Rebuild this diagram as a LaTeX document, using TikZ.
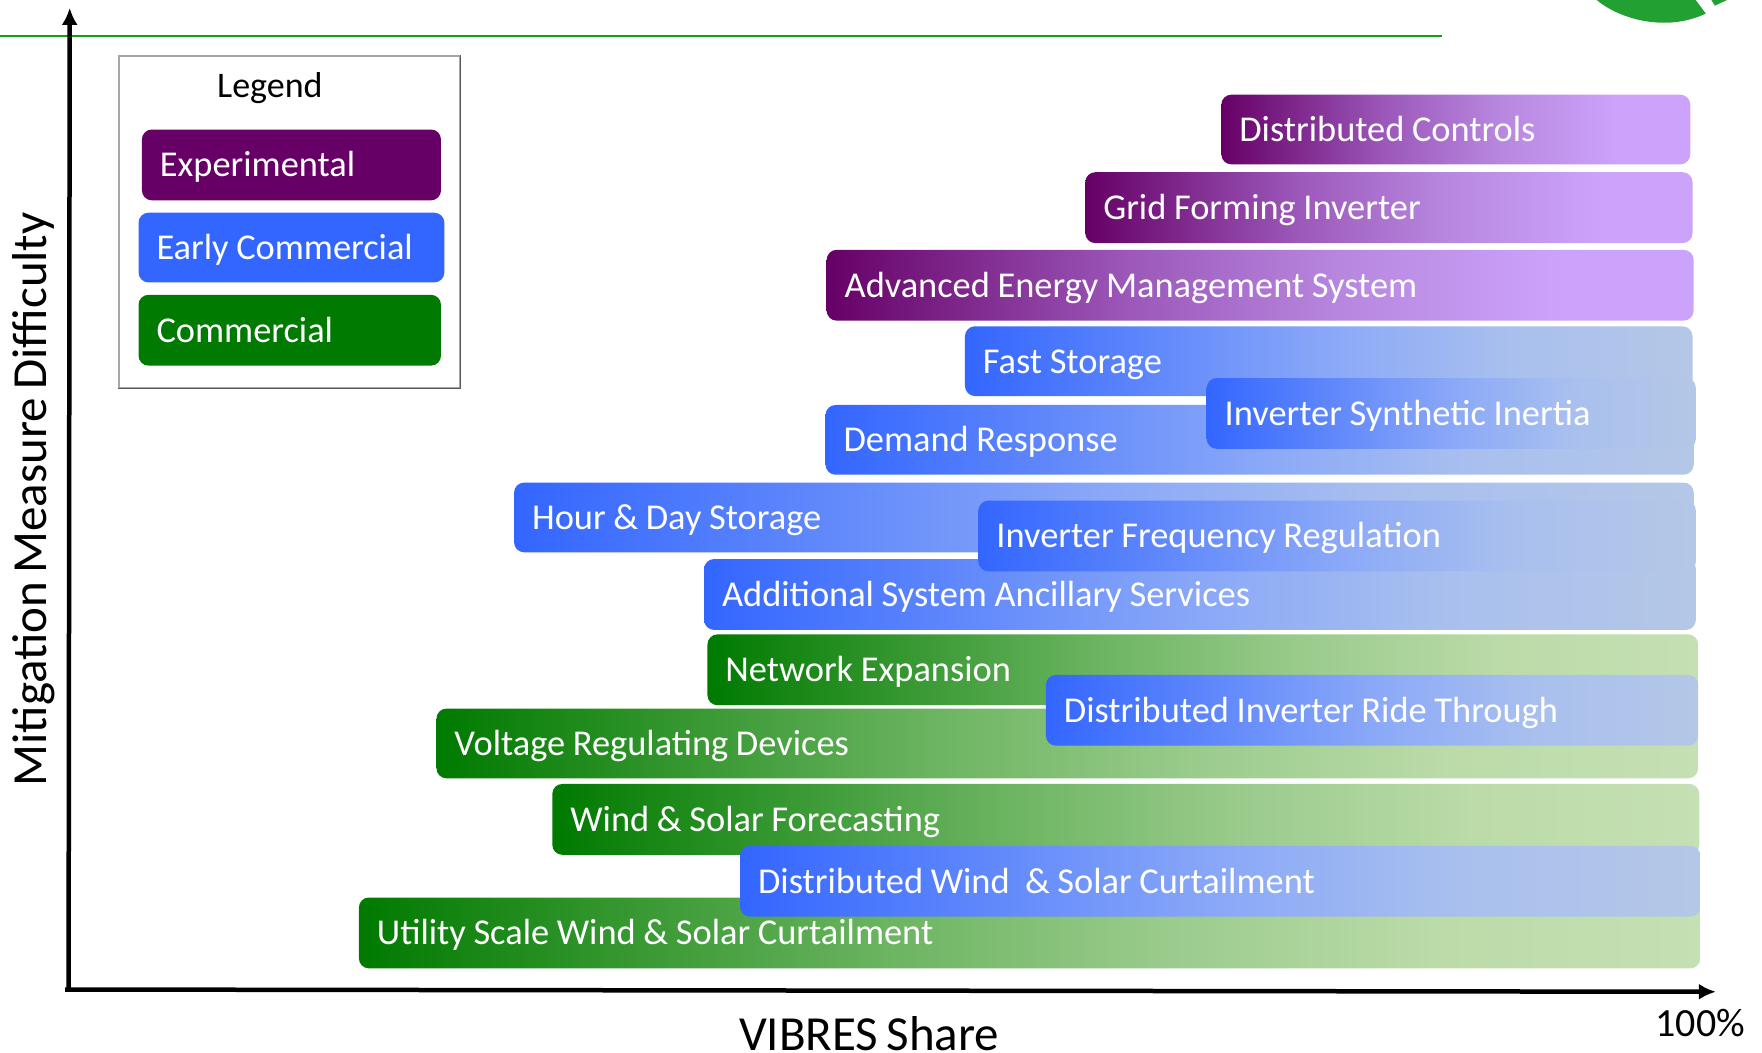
\documentclass[tikz,border=0pt]{standalone}
\usepackage{fontspec}
\setmainfont[WordSpace=0.75]{Carlito}
\usetikzlibrary{arrows.meta}
\definecolor{pdark}{HTML}{660066}
\definecolor{pa}{HTML}{9C58BA}
\definecolor{pb}{HTML}{B888E0}
\definecolor{plight}{HTML}{CCA3FB}
\definecolor{bdark}{HTML}{3366FF}
\definecolor{ba}{HTML}{8AA8F8}
\definecolor{bb}{HTML}{A9C0EE}
\definecolor{blight}{HTML}{B4C7E7}
\definecolor{gdark}{HTML}{007A00}
\definecolor{ga}{HTML}{6DB562}
\definecolor{gb}{HTML}{9ACB8C}
\definecolor{gc}{HTML}{BBDBA8}
\definecolor{glight}{HTML}{C5E0B4}
\definecolor{topline}{HTML}{12A012}
\definecolor{logogreen}{HTML}{22A032}
\pgfdeclarehorizontalshading{purplefade}{100bp}{color(0bp)=(pdark); color(25bp)=(pdark); color(42.5bp)=(pa); color(55bp)=(pb); color(67.5bp)=(plight); color(100bp)=(plight)}
\pgfdeclarehorizontalshading{bluefade}{100bp}{color(0bp)=(bdark); color(25bp)=(bdark); color(50bp)=(ba); color(62.5bp)=(bb); color(75bp)=(blight); color(100bp)=(blight)}
\pgfdeclarehorizontalshading{greenfade}{100bp}{color(0bp)=(gdark); color(25bp)=(gdark); color(45bp)=(ga); color(55bp)=(gb); color(65bp)=(gc); color(75bp)=(glight); color(100bp)=(glight)}
\tikzset{
  pillbase/.style={rounded corners=10pt, text=white, anchor=north west, align=left, inner ysep=0pt, inner xsep=18pt, text height=30pt, text depth=6pt, font=\fontsize{36.4}{40}\selectfont},
  purplebar/.style={pillbase, shade, shading=purplefade},
  bluebar/.style={pillbase, shade, shading=bluefade},
  greenbar/.style={pillbase, shade, shading=greenfade},
  axisline/.style={line width=4.5pt, black, -{Latex[length=17pt,width=16pt]}},
  axislabel/.style={text=black, inner sep=0pt, font=\fontsize{49}{54}\selectfont},
  legendtext/.style={text=black, inner sep=0pt, font=\fontsize{36}{40}\selectfont},
}
% name, style, x1, y1, x2, y2, text  (coordinates in picture units)
\newcommand{\mybar}[7]{%
  \pgfmathsetlengthmacro{\barw}{(#5-#3)*1.1245pt}%
  \pgfmathsetlengthmacro{\barh}{(#6-#4)*1.1245pt}%
  \pgfmathsetlengthmacro{\bart}{\barw-36pt}%
  \node[#2, text width=\bart, minimum height=\barh] (#1) at (#3,#4) {\spaceskip=0.21em\relax #7};%
}
\begin{document}
\begin{tikzpicture}[x=1.1245pt,y=-1.1245pt]
\useasboundingbox (0,0) rectangle (1567,936.4);
\fill[white] (0,0) rectangle (1567,936.4);
% top rule
\coordinate (ruleA) at (0,32);
\coordinate (ruleB) at (1282,32);
\draw[topline, line width=2pt] (ruleA) -- (ruleB);
% logo fragment
\fill[logogreen] (1420,0) .. controls (1440,17) and (1482,29) .. (1517,12) -- (1508,0) -- cycle;
\fill[logogreen] (1525,5) -- (1536,0) -- (1522,0) -- cycle;
% axes
\coordinate (origin) at (61,880);
\coordinate (xstart) at (58,880);
\coordinate (ytip) at (62,7);
\coordinate (xtip) at (1526,882);
\draw[axisline] (origin) -- (ytip);
\draw[axisline] (xstart) -- (xtip);
\node[axislabel] (xlabel) at (773,919) {VIBRES Share};
\node[axislabel, rotate=90] (ylabel) at (30,444) {Mitigation Measure Difficulty};
\node[legendtext, font=\fontsize{40}{44}\selectfont] (hundred) at (1512,910) {100\%};
% legend
\node[draw=gray!70, line width=1.5pt, fill=white, anchor=north west, minimum width=341pt, minimum height=332pt, inner sep=0pt] (legendbox) at (105,49) {};
\draw[black!65, line width=1.5pt] (legendbox.south west) -- (legendbox.south east) -- (legendbox.north east);
\node[legendtext] (legendtitle) at (240,78) {Legend};
\mybar{legexp}{pillbase, fill=pdark}{126}{115}{392}{178}{Experimental}
\mybar{legearly}{pillbase, fill=bdark}{123}{189}{395}{251}{Early Commercial}
\mybar{legcom}{pillbase, fill=gdark}{123}{262}{392}{325}{Commercial}
% bars
\mybar{controls}{purplebar}{1086}{84}{1503}{146}{Distributed Controls}
\mybar{forming}{purplebar}{965}{153}{1505}{216}{Grid Forming Inverter}
\mybar{aems}{purplebar}{735}{222}{1506}{285}{Advanced Energy Management System}
\mybar{faststore}{bluebar}{858}{290}{1505}{352}{Fast Storage}
\mybar{demand}{bluebar}{734}{360}{1506}{422}{Demand Response}
\mybar{inertia}{bluebar}{1073}{336}{1508}{399}{Inverter Synthetic Inertia}
\mybar{hourday}{bluebar}{457}{429}{1506}{491}{Hour \& Day Storage}
\mybar{ancillary}{bluebar}{626}{497}{1508}{560}{Additional System Ancillary Services}
\mybar{freqreg}{bluebar}{870}{445}{1508}{508}{Inverter Frequency Regulation}
\mybar{network}{greenbar}{629}{564}{1510}{627}{Network Expansion}
\mybar{voltage}{greenbar}{388}{630}{1510}{692}{Voltage Regulating Devices}
\mybar{ridethrough}{bluebar}{930}{600}{1510}{663}{Distributed Inverter Ride Through}
\mybar{forecast}{greenbar}{491}{697}{1511}{760}{Wind \& Solar Forecasting}
\mybar{utility}{greenbar}{319}{798}{1512}{861}{Utility Scale Wind \& Solar Curtailment}
\mybar{distcurt}{bluebar}{658}{752}{1512}{815}{Distributed Wind\ \ \& Solar Curtailment}
\end{tikzpicture}
\end{document}
